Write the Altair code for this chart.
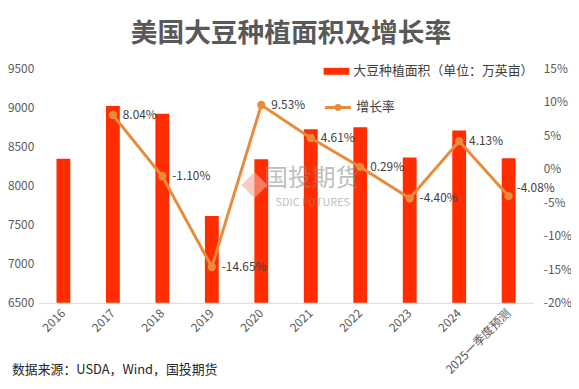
import altair as alt
import pandas as pd

# ---- data ----
years = ["2016", "2017", "2018", "2019", "2020", "2021", "2022", "2023", "2024", "2025一季度预测"]
area = [8343, 9017, 8919, 7612, 8338, 8721, 8746, 8360, 8705, 8350]
growth = [None, 8.04, -1.10, -14.65, 9.53, 4.61, 0.29, -4.40, 4.13, -4.08]
left_ticks = [6500, 7000, 7500, 8000, 8500, 9000, 9500]
right_ticks = [-20, -15, -10, -5, 0, 5, 10, 15]
bar_name = "大豆种植面积（单位：万英亩）"
line_name = "增长率"
title_text = ["美国大豆种植面积及增长率"]
source_text = ["数据来源：USDA，Wind，国投期货"]
wm_main = ["国投期货"]
wm_sub = ["SDIC FUTURES"]
raised_label_year = "2025一季度预测"

FONT = "Noto Sans CJK SC"
RED = "#FF2D00"
ORANGE = "#E88C3C"
GRAY = "#595959"

df = pd.DataFrame({"year": years, "area": area, "growth": growth})
df["s1"] = bar_name
df["s2"] = line_name
df["label"] = [("" if g is None else f"{g:.2f}%") for g in growth]

x = alt.X(
    "year:N", sort=years, title=None,
    scale=alt.Scale(paddingInner=0.72, paddingOuter=0.36),
    axis=alt.Axis(labelAngle=-45, labelAlign="right", labelBaseline="middle",
                  ticks=False, domainColor="#d9d9d9", labelColor=GRAY,
                  labelFontSize=12, labelPadding=8, labelFont=FONT),
)

bars = alt.Chart(df).mark_bar(color=RED).encode(
    x=x,
    y=alt.Y("area:Q", title=None,
            scale=alt.Scale(domain=[6500, 9500], nice=False, zero=False),
            axis=alt.Axis(values=left_ticks, format="d", domain=False, ticks=False, grid=False,
                          labelColor=GRAY, labelFontSize=12, labelPadding=5, labelFont=FONT)),
    y2=alt.datum(6500),
    fill=alt.Fill("s1:N", scale=alt.Scale(range=[RED]),
                  legend=alt.Legend(title=None, orient="none", legendX=288, legendY=-10,
                                    symbolType="M-1,-0.27H1V0.27H-1Z", symbolSize=676,
                                    symbolStrokeWidth=0, labelFontSize=13, labelColor="#404040",
                                    labelFont=FONT, padding=0, labelOffset=4, labelLimit=400)),
)

gy = alt.Y("growth:Q", title=None,
           scale=alt.Scale(domain=[-20, 15], nice=False, zero=False),
           axis=alt.Axis(orient="right", values=right_ticks, domain=False, ticks=False,
                         grid=False, labelExpr="datum.value + '%'", labelColor=GRAY,
                         labelFontSize=12, labelPadding=10, labelFont=FONT))
gbase = alt.Chart(df).transform_filter("isValid(datum.growth)").encode(
    x=alt.X("year:N", sort=years), y=gy
)

line = gbase.mark_line(strokeWidth=3).encode(
    stroke=alt.Stroke("s2:N", scale=alt.Scale(range=[ORANGE]),
                      legend=alt.Legend(title=None, orient="none", legendX=288, legendY=25,
                                        symbolType="M-1,0H1M-0.15,0A0.15,0.15,0,1,1,0.15,0A0.15,0.15,0,1,1,-0.15,0",
                                        symbolSize=676, symbolStrokeWidth=3,
                                        labelFontSize=13, labelColor="#404040",
                                        labelFont=FONT, padding=0, labelOffset=4)),
)
points = gbase.mark_circle(size=70, color=ORANGE, opacity=1)
labels = gbase.transform_filter(f"datum.year != '{raised_label_year}'").mark_text(
    align="left", baseline="middle", dx=10, fontSize=12, color="#404040", font=FONT
).encode(text="label:N")
labels_last = gbase.transform_filter(f"datum.year == '{raised_label_year}'").mark_text(
    align="left", baseline="middle", dx=8, dy=-8, fontSize=12, color="#404040", font=FONT
).encode(text="label:N")

title = alt.Chart(pd.DataFrame({"t": title_text})).mark_text(
    align="center", baseline="middle", fontSize=27, fontWeight="bold", color=GRAY, font=FONT
).encode(text="t:N", x=alt.value(255), y=alt.value(-35))

source = alt.Chart(pd.DataFrame({"t": source_text})).mark_text(
    align="left", baseline="middle", fontSize=13, color="#262626", font=FONT
).encode(text="t:N", x=alt.value(-27), y=alt.value(305))

logo = alt.Chart(pd.DataFrame({"t": wm_main})).mark_point(
    shape="diamond", filled=True, size=700, color="#F4AE9C", opacity=0.6
).encode(x=alt.value(218), y=alt.value(118))
wm1 = alt.Chart(pd.DataFrame({"t": wm_main})).mark_text(
    align="center", baseline="middle", fontSize=24, color="#8a8a8a", opacity=0.55, font=FONT
).encode(text="t:N", x=alt.value(276), y=alt.value(112))
wm2 = alt.Chart(pd.DataFrame({"t": wm_sub})).mark_text(
    align="center", baseline="middle", fontSize=11, color="#8a8a8a", opacity=0.55, font=FONT
).encode(text="t:N", x=alt.value(277), y=alt.value(136))

chart = alt.layer(
    bars,
    alt.layer(line, points, labels, labels_last),
    title, source, logo, wm1, wm2,
).resolve_scale(y="independent").properties(
    width=500, height=237,
    autosize=alt.AutoSizeParams(type="none"),
    padding={"left": 31, "top": 59, "right": 38, "bottom": 77},
).configure(font=FONT, background="white").configure_view(stroke=None)

chart.save("out.html", embed_options={"renderer": "svg", "actions": False})
